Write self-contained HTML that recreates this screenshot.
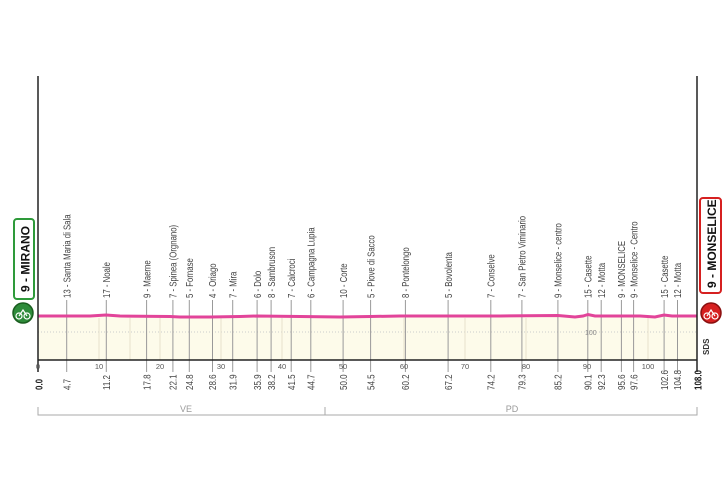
<!DOCTYPE html>
<html><head><meta charset="utf-8"><style>
html,body{margin:0;padding:0;background:#fff;}
svg{display:block;}
text{font-family:"Liberation Sans Narrow","Liberation Sans",sans-serif;}
</style></head><body>
<svg width="728" height="485" viewBox="0 0 728 485" xmlns="http://www.w3.org/2000/svg">
<rect x="38" y="316" width="659" height="44" fill="#fdfbea"/>
<line x1="38" y1="332" x2="697" y2="332" stroke="#ccc" stroke-width="1" stroke-dasharray="1,2"/>
<text x="585" y="335" font-size="7" fill="#888">100</text>
<g stroke="#e6e2cc" stroke-width="1">
<line x1="99" y1="318" x2="99" y2="360"/><line x1="130" y1="318" x2="130" y2="360"/><line x1="160" y1="318" x2="160" y2="360"/>
<line x1="221" y1="318" x2="221" y2="360"/><line x1="282" y1="318" x2="282" y2="360"/><line x1="404" y1="318" x2="404" y2="360"/>
<line x1="465" y1="318" x2="465" y2="360"/><line x1="526" y1="318" x2="526" y2="360"/><line x1="648" y1="318" x2="648" y2="360"/>
</g>
<g stroke="#999" stroke-width="1">
<line x1="66.7" y1="300" x2="66.7" y2="372"/><line x1="106.3" y1="300" x2="106.3" y2="372"/>
<line x1="146.6" y1="300" x2="146.6" y2="372"/><line x1="172.9" y1="300" x2="172.9" y2="372"/>
<line x1="189.3" y1="300" x2="189.3" y2="372"/><line x1="212.5" y1="300" x2="212.5" y2="372"/>
<line x1="232.7" y1="300" x2="232.7" y2="372"/><line x1="257.1" y1="300" x2="257.1" y2="372"/>
<line x1="271.1" y1="300" x2="271.1" y2="372"/><line x1="291.2" y1="300" x2="291.2" y2="372"/>
<line x1="310.8" y1="300" x2="310.8" y2="372"/><line x1="343.1" y1="300" x2="343.1" y2="372"/>
<line x1="370.6" y1="300" x2="370.6" y2="372"/><line x1="405.4" y1="300" x2="405.4" y2="372"/>
<line x1="448.1" y1="300" x2="448.1" y2="372"/><line x1="490.8" y1="300" x2="490.8" y2="372"/>
<line x1="521.9" y1="300" x2="521.9" y2="372"/><line x1="557.9" y1="300" x2="557.9" y2="372"/>
<line x1="587.8" y1="300" x2="587.8" y2="372"/><line x1="601.2" y1="300" x2="601.2" y2="372"/>
<line x1="621.4" y1="300" x2="621.4" y2="372"/><line x1="633.6" y1="300" x2="633.6" y2="372"/>
<line x1="664.1" y1="300" x2="664.1" y2="372"/><line x1="677.5" y1="300" x2="677.5" y2="372"/>
</g>
<path d="M38,316 L90,316 L106,315 L120,316 L170,316.5 L180,317 L210,317 L240,316.5 L257,316 L300,316.5 L340,317 L370,316.5 L400,316 L450,316 L500,316 L558,315.5 L575,317 L583,316 L588,314.5 L595,316 L640,316 L655,317 L664,315 L672,316 L697,316" fill="none" stroke="#e2449a" stroke-width="3"/>
<line x1="38" y1="76" x2="38" y2="360" stroke="#222" stroke-width="1.5"/>
<line x1="697" y1="76" x2="697" y2="360" stroke="#222" stroke-width="1.5"/>
<line x1="38" y1="360" x2="697" y2="360" stroke="#222" stroke-width="1.5"/>
<line x1="38" y1="360" x2="38" y2="372" stroke="#222" stroke-width="1.5"/>
<line x1="697" y1="360" x2="697" y2="372" stroke="#222" stroke-width="1.5"/>
<g font-size="7.5" fill="#555" text-anchor="middle">
<text x="38" y="369">0</text><text x="99" y="369">10</text><text x="160" y="369">20</text><text x="221" y="369">30</text><text x="282" y="369">40</text>
<text x="343" y="369">50</text><text x="404" y="369">60</text><text x="465" y="369">70</text><text x="526" y="369">80</text><text x="587" y="369">90</text><text x="648" y="369">100</text>
</g>
<g font-size="10" fill="#444" text-anchor="start">
<text transform="translate(70.5,298) rotate(-90) scale(0.78,1)">13 - Santa Maria di Sala</text>
<text transform="translate(110,298) rotate(-90) scale(0.78,1)">17 - Noale</text>
<text transform="translate(150.3,298) rotate(-90) scale(0.78,1)">9 - Maerne</text>
<text transform="translate(176.6,298) rotate(-90) scale(0.78,1)">7 - Spinea (Orgnano)</text>
<text transform="translate(193,298) rotate(-90) scale(0.78,1)">5 - Fornase</text>
<text transform="translate(216.2,298) rotate(-90) scale(0.78,1)">4 - Oriago</text>
<text transform="translate(236.4,298) rotate(-90) scale(0.78,1)">7 - Mira</text>
<text transform="translate(260.8,298) rotate(-90) scale(0.78,1)">6 - Dolo</text>
<text transform="translate(274.8,298) rotate(-90) scale(0.78,1)">8 - Sambruson</text>
<text transform="translate(294.9,298) rotate(-90) scale(0.78,1)">7 - Calcroci</text>
<text transform="translate(314.5,298) rotate(-90) scale(0.78,1)">6 - Campagna Lupia</text>
<text transform="translate(346.8,298) rotate(-90) scale(0.78,1)">10 - Corte</text>
<text transform="translate(374.3,298) rotate(-90) scale(0.78,1)">5 - Piove di Sacco</text>
<text transform="translate(409.1,298) rotate(-90) scale(0.78,1)">8 - Pontelongo</text>
<text transform="translate(451.8,298) rotate(-90) scale(0.78,1)">5 - Bovolenta</text>
<text transform="translate(494.5,298) rotate(-90) scale(0.78,1)">7 - Conselve</text>
<text transform="translate(525.6,298) rotate(-90) scale(0.78,1)">7 - San Pietro Viminario</text>
<text transform="translate(561.6,298) rotate(-90) scale(0.78,1)">9 - Monselice - centro</text>
<text transform="translate(591.5,298) rotate(-90) scale(0.78,1)">15 - Casette</text>
<text transform="translate(604.9,298) rotate(-90) scale(0.78,1)">12 - Motta</text>
<text transform="translate(625.1,298) rotate(-90) scale(0.78,1)">9 - MONSELICE</text>
<text transform="translate(637.3,298) rotate(-90) scale(0.78,1)">9 - Monselice - Centro</text>
<text transform="translate(667.8,298) rotate(-90) scale(0.78,1)">15 - Casette</text>
<text transform="translate(681.2,298) rotate(-90) scale(0.78,1)">12 - Motta</text>
</g>
<g font-size="10" fill="#444" text-anchor="start">
<text transform="translate(70.5,390) rotate(-90) scale(0.8,1)">4.7</text>
<text transform="translate(110,390) rotate(-90) scale(0.8,1)">11.2</text>
<text transform="translate(150.3,390) rotate(-90) scale(0.8,1)">17.8</text>
<text transform="translate(176.6,390) rotate(-90) scale(0.8,1)">22.1</text>
<text transform="translate(193,390) rotate(-90) scale(0.8,1)">24.8</text>
<text transform="translate(216.2,390) rotate(-90) scale(0.8,1)">28.6</text>
<text transform="translate(236.4,390) rotate(-90) scale(0.8,1)">31.9</text>
<text transform="translate(260.8,390) rotate(-90) scale(0.8,1)">35.9</text>
<text transform="translate(274.8,390) rotate(-90) scale(0.8,1)">38.2</text>
<text transform="translate(294.9,390) rotate(-90) scale(0.8,1)">41.5</text>
<text transform="translate(314.5,390) rotate(-90) scale(0.8,1)">44.7</text>
<text transform="translate(346.8,390) rotate(-90) scale(0.8,1)">50.0</text>
<text transform="translate(374.3,390) rotate(-90) scale(0.8,1)">54.5</text>
<text transform="translate(409.1,390) rotate(-90) scale(0.8,1)">60.2</text>
<text transform="translate(451.8,390) rotate(-90) scale(0.8,1)">67.2</text>
<text transform="translate(494.5,390) rotate(-90) scale(0.8,1)">74.2</text>
<text transform="translate(525.6,390) rotate(-90) scale(0.8,1)">79.3</text>
<text transform="translate(561.6,390) rotate(-90) scale(0.8,1)">85.2</text>
<text transform="translate(591.5,390) rotate(-90) scale(0.8,1)">90.1</text>
<text transform="translate(604.9,390) rotate(-90) scale(0.8,1)">92.3</text>
<text transform="translate(625.1,390) rotate(-90) scale(0.8,1)">95.6</text>
<text transform="translate(637.3,390) rotate(-90) scale(0.8,1)">97.6</text>
<text transform="translate(667.8,390) rotate(-90) scale(0.8,1)">102.6</text>
<text transform="translate(681.2,390) rotate(-90) scale(0.8,1)">104.8</text>
<text transform="translate(42.5,390) rotate(-90) scale(0.8,1)" font-weight="bold" fill="#222">0.0</text>
<text transform="translate(701.5,390) rotate(-90) scale(0.8,1)" font-weight="bold" fill="#222">108.0</text>
</g>
<g stroke="#aaa" stroke-width="1" fill="none">
<path d="M38,407 V415 H697 V407"/>
<line x1="325" y1="407" x2="325" y2="415"/>
</g>
<text x="186" y="412" font-size="9" fill="#999" text-anchor="middle">VE</text>
<text x="512" y="412" font-size="9" fill="#999" text-anchor="middle">PD</text>
<rect x="14" y="219" width="20" height="80" rx="3" fill="#fff" stroke="#2e9a3a" stroke-width="2"/>
<text transform="translate(29.5,292) rotate(-90)" font-family="Liberation Sans" font-size="12" font-weight="bold" fill="#111">9 - MIRANO</text>
<circle cx="23" cy="313" r="10" fill="#2e8b3a" stroke="#1b5e20" stroke-width="1.5"/>
<circle cx="19" cy="316" r="3" fill="none" stroke="#fff" stroke-width="1.2"/><circle cx="27" cy="316" r="3" fill="none" stroke="#fff" stroke-width="1.2"/>
<path d="M19,316 L23,310 L27,316" stroke="#fff" stroke-width="1.2" fill="none"/>
<rect x="700" y="198" width="21" height="95" rx="3" fill="#fff" stroke="#d62020" stroke-width="2"/>
<text transform="translate(716,288) rotate(-90)" font-family="Liberation Sans" font-size="12" font-weight="bold" fill="#111">9 - MONSELICE</text>
<circle cx="711" cy="313" r="10" fill="#d62020" stroke="#8a1010" stroke-width="1.5"/>
<circle cx="707" cy="316" r="3" fill="none" stroke="#fff" stroke-width="1.2"/><circle cx="715" cy="316" r="3" fill="none" stroke="#fff" stroke-width="1.2"/>
<path d="M707,316 L711,310 L715,316" stroke="#fff" stroke-width="1.2" fill="none"/>
<text transform="translate(709,355) rotate(-90)" font-family="Liberation Sans" font-size="8" font-weight="bold" fill="#333">SDS</text>
</svg>
</body></html>
